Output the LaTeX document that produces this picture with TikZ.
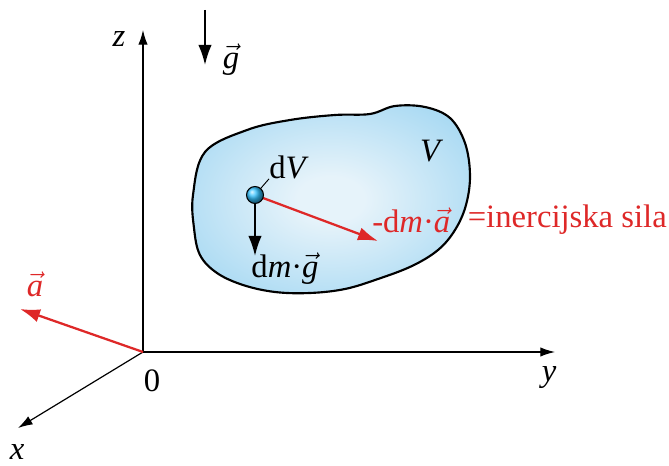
\documentclass[tikz,border=0pt]{standalone}
\usepackage{fontspec}
\setmainfont{Liberation Serif}
\usetikzlibrary{arrows.meta}
\definecolor{redv}{RGB}{222,40,40}
\definecolor{blobout}{RGB}{112,196,238}
\definecolor{blobmid}{RGB}{170,218,243}
\definecolor{blobin}{RGB}{230,243,250}
\pgfdeclareradialshading{blobshade}{\pgfpoint{0bp}{0bp}}{color(0bp)=(blobin); color(6bp)=(blobin); color(30bp)=(blobmid); color(48bp)=(blobout); color(50bp)=(blobout)}
\newcommand\vecit[1]{\ensuremath{\vec{\textit{#1}}}}
\begin{document}
\begin{tikzpicture}[x=0.75pt,y=-0.75pt,
  lbl/.style={inner sep=0pt,font=\fontsize{24.5}{26}\selectfont},
  ilbl/.style={inner sep=0pt,font=\fontsize{24.5}{26}\selectfont\itshape},
  axisarrow/.style={line width=0.9pt,-{Latex[length=11pt,width=7pt]}},
  forcearrow/.style={line width=1.7pt,-{Latex[length=15pt,width=10pt]}},
  redtxt/.style={lbl,text=redv}]
\useasboundingbox (0,0) rectangle (669,466);
% blob
\draw[line width=1.6pt,shading=blobshade]
  plot[smooth cycle,tension=0.6] coordinates{
  (193,195) (205,152) (247,130) (290,120) (335,115) (370,114) (395,106)
  (425,107) (450,118) (465,143) (470,175) (466,205) (455,230) (438,250)
  (412,266) (378,279) (345,289) (310,293) (275,292) (243,285) (217,273)
  (200,255) (194,228)};
% axes
\coordinate (O) at (143,352);
\node[ilbl] (zl) at (119,39) {z};
\node[ilbl] (yl) at (549,378) {y};
\node[ilbl] (xl) at (17,452) {x};
\node[lbl] (zero) at (152,381) {0};
\coordinate (zend) at (143,30);
\coordinate (yend) at (555,352);
\coordinate (xend) at (18,428);
\draw[axisarrow] (O) -- (zend);
\draw[axisarrow] (O) -- (yend);
\draw[axisarrow] (O) -- (xend);
% acceleration
\coordinate (aend) at (20,309);
\draw[forcearrow,redv] (O) -- (aend);
\node[redtxt] (al) at (35,284) {\vecit{a}};
% gravity
\coordinate (gs) at (205,10);
\coordinate (ge) at (205,65);
\draw[forcearrow,line width=1.4pt] (gs) -- (ge);
\node[lbl] (gl) at (231,60) {\vecit{g}};
% element
\coordinate (P) at (255,195);
\coordinate (dgend) at (255,256);
\coordinate (daend) at (378,241);
\draw[forcearrow,line width=1.4pt] (P) -- (dgend);
\draw[forcearrow,redv] (P) -- (daend);
\node[lbl] (dVl) at (289,167) {d\textit{V}};
\draw[line width=0.7pt] (P) -- (dVl.south west);
\shade[ball color=cyan!70!blue!80,draw=black,line width=0.8pt] (P) circle (8.5);
\node[lbl] (dmg) at (285,269) {d\textit{m}·\vecit{g}};
\node[redtxt,anchor=west] (dma) at (372,220) {-d\textit{m}·\vecit{a}};
\node[redtxt,anchor=east] (inerc) at (667,220) {=inercijska sila};
\node[ilbl] (Vl) at (430,151) {V};
\end{tikzpicture}
\end{document}
